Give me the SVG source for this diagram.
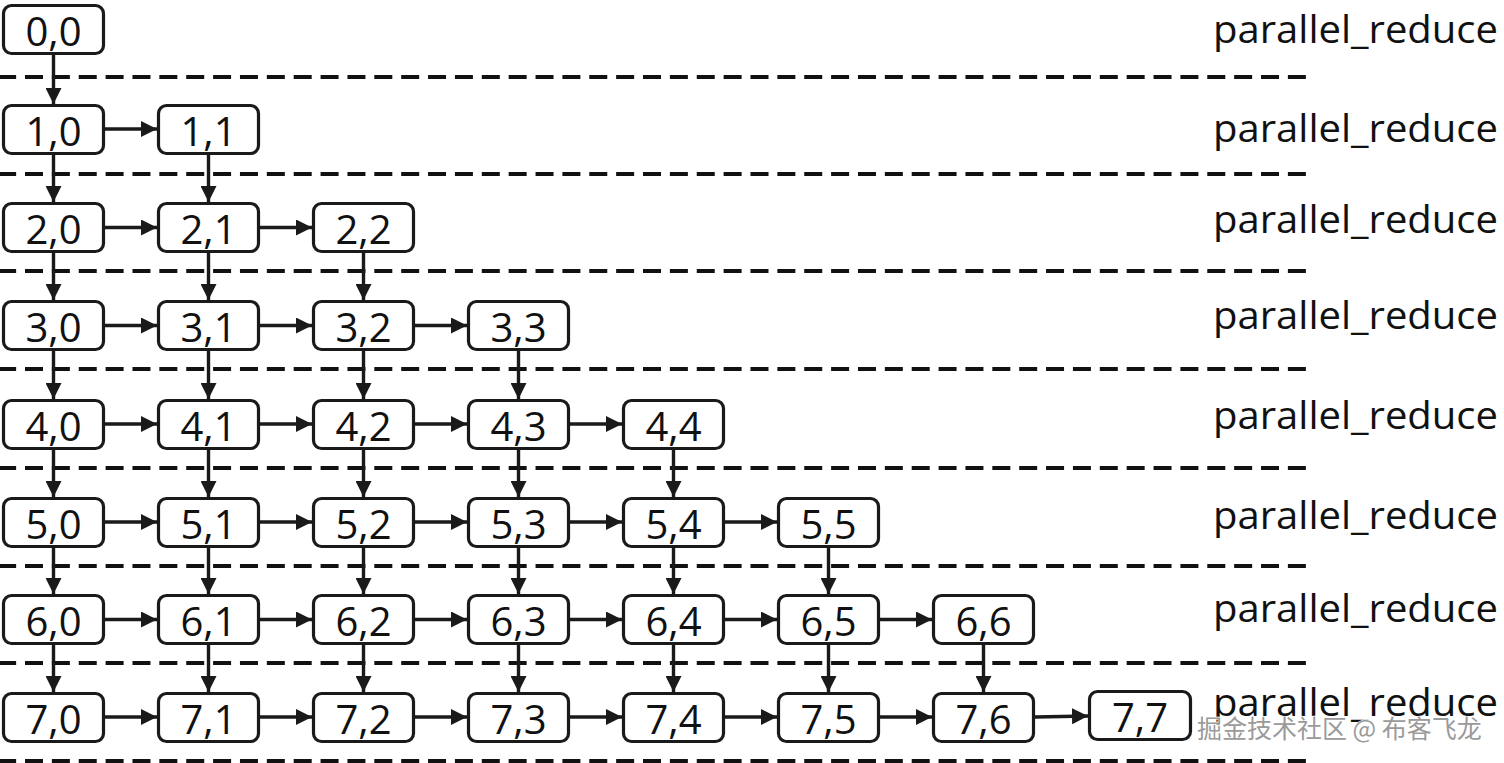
<svg xmlns="http://www.w3.org/2000/svg" width="1504" height="763" viewBox="0 0 1504 763">
<defs>
<style>
.box{fill:#fff;stroke:#1a1a1a;stroke-width:3.2;}
.lbl{font-family:"Open Sans","Noto Sans",sans-serif;font-size:40px;fill:#111;text-anchor:middle;}
.side{font-family:"Open Sans","Noto Sans",sans-serif;font-size:38px;fill:#111;}
.sep{stroke:#111;stroke-width:4;stroke-dasharray:18 8.87;fill:none;}
.arr{stroke:#1a1a1a;stroke-width:3.4;fill:none;marker-end:url(#ah);}
.wm{font-family:"Noto Sans CJK SC","Noto Sans",sans-serif;font-size:25px;fill:#9a9a9a;stroke:#fff;stroke-width:1.2;paint-order:stroke;}
</style>
<marker id="ah" markerUnits="userSpaceOnUse" markerWidth="17" markerHeight="16" refX="16" refY="8" orient="auto">
<path d="M0,0 L16,8 L0,16 z" fill="#1a1a1a"/>
</marker>
</defs>
<g id="separators">
<line class="sep" x1="-1.87" y1="77" x2="1306" y2="77"/>
<line class="sep" x1="-1.87" y1="174" x2="1306" y2="174"/>
<line class="sep" x1="-1.87" y1="271" x2="1306" y2="271"/>
<line class="sep" x1="-1.87" y1="369" x2="1306" y2="369"/>
<line class="sep" x1="-1.87" y1="468" x2="1306" y2="468"/>
<line class="sep" x1="-1.87" y1="566" x2="1306" y2="566"/>
<line class="sep" x1="-1.87" y1="663" x2="1306" y2="663"/>
<line class="sep" x1="-1.87" y1="761" x2="1306" y2="761"/>
</g>
<g id="side-labels">
<text class="side" x="1213" y="43" textLength="285" lengthAdjust="spacingAndGlyphs">parallel_reduce</text>
<text class="side" x="1213" y="142" textLength="285" lengthAdjust="spacingAndGlyphs">parallel_reduce</text>
<text class="side" x="1213" y="233" textLength="285" lengthAdjust="spacingAndGlyphs">parallel_reduce</text>
<text class="side" x="1213" y="329" textLength="285" lengthAdjust="spacingAndGlyphs">parallel_reduce</text>
<text class="side" x="1213" y="429" textLength="285" lengthAdjust="spacingAndGlyphs">parallel_reduce</text>
<text class="side" x="1213" y="529" textLength="285" lengthAdjust="spacingAndGlyphs">parallel_reduce</text>
<text class="side" x="1213" y="622" textLength="285" lengthAdjust="spacingAndGlyphs">parallel_reduce</text>
<text class="side" x="1213" y="716" textLength="285" lengthAdjust="spacingAndGlyphs">parallel_reduce</text>
</g>
<g id="connectors">
<line class="arr" x1="53.5" y1="55" x2="53.5" y2="104"/>
<line class="arr" x1="53.5" y1="155" x2="53.5" y2="202"/>
<line class="arr" x1="208.5" y1="155" x2="208.5" y2="202"/>
<line class="arr" x1="53.5" y1="253" x2="53.5" y2="300"/>
<line class="arr" x1="208.5" y1="253" x2="208.5" y2="300"/>
<line class="arr" x1="363.5" y1="253" x2="363.5" y2="300"/>
<line class="arr" x1="53.5" y1="351" x2="53.5" y2="399"/>
<line class="arr" x1="208.5" y1="351" x2="208.5" y2="399"/>
<line class="arr" x1="363.5" y1="351" x2="363.5" y2="399"/>
<line class="arr" x1="518.5" y1="351" x2="518.5" y2="399"/>
<line class="arr" x1="53.5" y1="450" x2="53.5" y2="497"/>
<line class="arr" x1="208.5" y1="450" x2="208.5" y2="497"/>
<line class="arr" x1="363.5" y1="450" x2="363.5" y2="497"/>
<line class="arr" x1="518.5" y1="450" x2="518.5" y2="497"/>
<line class="arr" x1="673.5" y1="450" x2="673.5" y2="497"/>
<line class="arr" x1="53.5" y1="548" x2="53.5" y2="594"/>
<line class="arr" x1="208.5" y1="548" x2="208.5" y2="594"/>
<line class="arr" x1="363.5" y1="548" x2="363.5" y2="594"/>
<line class="arr" x1="518.5" y1="548" x2="518.5" y2="594"/>
<line class="arr" x1="673.5" y1="548" x2="673.5" y2="594"/>
<line class="arr" x1="828.5" y1="548" x2="828.5" y2="594"/>
<line class="arr" x1="53.5" y1="645" x2="53.5" y2="692"/>
<line class="arr" x1="208.5" y1="645" x2="208.5" y2="692"/>
<line class="arr" x1="363.5" y1="645" x2="363.5" y2="692"/>
<line class="arr" x1="518.5" y1="645" x2="518.5" y2="692"/>
<line class="arr" x1="673.5" y1="645" x2="673.5" y2="692"/>
<line class="arr" x1="828.5" y1="645" x2="828.5" y2="692"/>
<line class="arr" x1="983.5" y1="645" x2="983.5" y2="692"/>
<line class="arr" x1="105" y1="129" x2="157" y2="129"/>
<line class="arr" x1="105" y1="227.5" x2="157" y2="227.5"/>
<line class="arr" x1="260" y1="227.5" x2="312" y2="227.5"/>
<line class="arr" x1="105" y1="325.5" x2="157" y2="325.5"/>
<line class="arr" x1="260" y1="325.5" x2="312" y2="325.5"/>
<line class="arr" x1="415" y1="325.5" x2="467" y2="325.5"/>
<line class="arr" x1="105" y1="424" x2="157" y2="424"/>
<line class="arr" x1="260" y1="424" x2="312" y2="424"/>
<line class="arr" x1="415" y1="424" x2="467" y2="424"/>
<line class="arr" x1="570" y1="424" x2="622" y2="424"/>
<line class="arr" x1="105" y1="522" x2="157" y2="522"/>
<line class="arr" x1="260" y1="522" x2="312" y2="522"/>
<line class="arr" x1="415" y1="522" x2="467" y2="522"/>
<line class="arr" x1="570" y1="522" x2="622" y2="522"/>
<line class="arr" x1="725" y1="522" x2="777" y2="522"/>
<line class="arr" x1="105" y1="619.5" x2="157" y2="619.5"/>
<line class="arr" x1="260" y1="619.5" x2="312" y2="619.5"/>
<line class="arr" x1="415" y1="619.5" x2="467" y2="619.5"/>
<line class="arr" x1="570" y1="619.5" x2="622" y2="619.5"/>
<line class="arr" x1="725" y1="619.5" x2="777" y2="619.5"/>
<line class="arr" x1="880" y1="619.5" x2="932" y2="619.5"/>
<line class="arr" x1="105" y1="717" x2="157" y2="717"/>
<line class="arr" x1="260" y1="717" x2="312" y2="717"/>
<line class="arr" x1="415" y1="717" x2="467" y2="717"/>
<line class="arr" x1="570" y1="717" x2="622" y2="717"/>
<line class="arr" x1="725" y1="717" x2="777" y2="717"/>
<line class="arr" x1="880" y1="717" x2="932" y2="717"/>
<line class="arr" x1="1035" y1="717" x2="1088" y2="716"/>
</g>
<g id="n0_0"><rect class="box" x="3.5" y="5.5" width="100" height="48" rx="8"/><text class="lbl" x="53.5" y="45.5">0,0</text></g>
<g id="n1_0"><rect class="box" x="3.5" y="105.5" width="100" height="48" rx="8"/><text class="lbl" x="53.5" y="145.5">1,0</text></g>
<g id="n1_1"><rect class="box" x="158.5" y="105.5" width="100" height="48" rx="8"/><text class="lbl" x="208.5" y="145.5">1,1</text></g>
<g id="n2_0"><rect class="box" x="3.5" y="203.5" width="100" height="48" rx="8"/><text class="lbl" x="53.5" y="243.5">2,0</text></g>
<g id="n2_1"><rect class="box" x="158.5" y="203.5" width="100" height="48" rx="8"/><text class="lbl" x="208.5" y="243.5">2,1</text></g>
<g id="n2_2"><rect class="box" x="313.5" y="203.5" width="100" height="48" rx="8"/><text class="lbl" x="363.5" y="243.5">2,2</text></g>
<g id="n3_0"><rect class="box" x="3.5" y="301.5" width="100" height="48" rx="8"/><text class="lbl" x="53.5" y="341.5">3,0</text></g>
<g id="n3_1"><rect class="box" x="158.5" y="301.5" width="100" height="48" rx="8"/><text class="lbl" x="208.5" y="341.5">3,1</text></g>
<g id="n3_2"><rect class="box" x="313.5" y="301.5" width="100" height="48" rx="8"/><text class="lbl" x="363.5" y="341.5">3,2</text></g>
<g id="n3_3"><rect class="box" x="468.5" y="301.5" width="100" height="48" rx="8"/><text class="lbl" x="518.5" y="341.5">3,3</text></g>
<g id="n4_0"><rect class="box" x="3.5" y="400.5" width="100" height="48" rx="8"/><text class="lbl" x="53.5" y="440.5">4,0</text></g>
<g id="n4_1"><rect class="box" x="158.5" y="400.5" width="100" height="48" rx="8"/><text class="lbl" x="208.5" y="440.5">4,1</text></g>
<g id="n4_2"><rect class="box" x="313.5" y="400.5" width="100" height="48" rx="8"/><text class="lbl" x="363.5" y="440.5">4,2</text></g>
<g id="n4_3"><rect class="box" x="468.5" y="400.5" width="100" height="48" rx="8"/><text class="lbl" x="518.5" y="440.5">4,3</text></g>
<g id="n4_4"><rect class="box" x="623.5" y="400.5" width="100" height="48" rx="8"/><text class="lbl" x="673.5" y="440.5">4,4</text></g>
<g id="n5_0"><rect class="box" x="3.5" y="498.5" width="100" height="48" rx="8"/><text class="lbl" x="53.5" y="538.5">5,0</text></g>
<g id="n5_1"><rect class="box" x="158.5" y="498.5" width="100" height="48" rx="8"/><text class="lbl" x="208.5" y="538.5">5,1</text></g>
<g id="n5_2"><rect class="box" x="313.5" y="498.5" width="100" height="48" rx="8"/><text class="lbl" x="363.5" y="538.5">5,2</text></g>
<g id="n5_3"><rect class="box" x="468.5" y="498.5" width="100" height="48" rx="8"/><text class="lbl" x="518.5" y="538.5">5,3</text></g>
<g id="n5_4"><rect class="box" x="623.5" y="498.5" width="100" height="48" rx="8"/><text class="lbl" x="673.5" y="538.5">5,4</text></g>
<g id="n5_5"><rect class="box" x="778.5" y="498.5" width="100" height="48" rx="8"/><text class="lbl" x="828.5" y="538.5">5,5</text></g>
<g id="n6_0"><rect class="box" x="3.5" y="595.5" width="100" height="48" rx="8"/><text class="lbl" x="53.5" y="635.5">6,0</text></g>
<g id="n6_1"><rect class="box" x="158.5" y="595.5" width="100" height="48" rx="8"/><text class="lbl" x="208.5" y="635.5">6,1</text></g>
<g id="n6_2"><rect class="box" x="313.5" y="595.5" width="100" height="48" rx="8"/><text class="lbl" x="363.5" y="635.5">6,2</text></g>
<g id="n6_3"><rect class="box" x="468.5" y="595.5" width="100" height="48" rx="8"/><text class="lbl" x="518.5" y="635.5">6,3</text></g>
<g id="n6_4"><rect class="box" x="623.5" y="595.5" width="100" height="48" rx="8"/><text class="lbl" x="673.5" y="635.5">6,4</text></g>
<g id="n6_5"><rect class="box" x="778.5" y="595.5" width="100" height="48" rx="8"/><text class="lbl" x="828.5" y="635.5">6,5</text></g>
<g id="n6_6"><rect class="box" x="933.5" y="595.5" width="100" height="48" rx="8"/><text class="lbl" x="983.5" y="635.5">6,6</text></g>
<g id="n7_0"><rect class="box" x="3.5" y="693.5" width="100" height="48" rx="8"/><text class="lbl" x="53.5" y="733.5">7,0</text></g>
<g id="n7_1"><rect class="box" x="158.5" y="693.5" width="100" height="48" rx="8"/><text class="lbl" x="208.5" y="733.5">7,1</text></g>
<g id="n7_2"><rect class="box" x="313.5" y="693.5" width="100" height="48" rx="8"/><text class="lbl" x="363.5" y="733.5">7,2</text></g>
<g id="n7_3"><rect class="box" x="468.5" y="693.5" width="100" height="48" rx="8"/><text class="lbl" x="518.5" y="733.5">7,3</text></g>
<g id="n7_4"><rect class="box" x="623.5" y="693.5" width="100" height="48" rx="8"/><text class="lbl" x="673.5" y="733.5">7,4</text></g>
<g id="n7_5"><rect class="box" x="778.5" y="693.5" width="100" height="48" rx="8"/><text class="lbl" x="828.5" y="733.5">7,5</text></g>
<g id="n7_6"><rect class="box" x="933.5" y="693.5" width="100" height="48" rx="8"/><text class="lbl" x="983.5" y="733.5">7,6</text></g>
<g id="n7_7"><rect class="box" x="1089.5" y="691.5" width="101" height="48" rx="8"/><text class="lbl" x="1140" y="731.5">7,7</text></g>
<g id="watermark"><text class="wm" x="1197" y="738">掘金技术社区 @ 布客飞龙</text></g>
</svg>
